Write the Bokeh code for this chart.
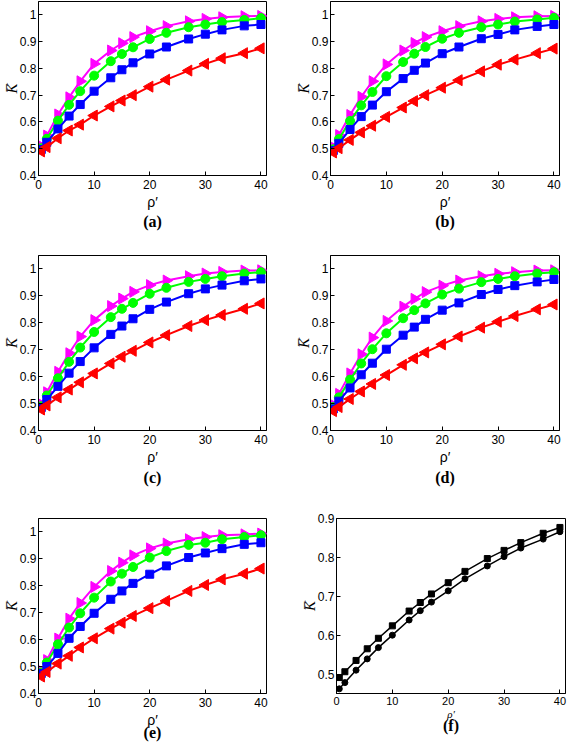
import math
from bokeh.plotting import figure
from bokeh.layouts import row, column
from bokeh.models import FixedTicker, Range1d
from bokeh.embed import file_html
from bokeh.resources import INLINE

# ---------------- data ----------------
rho = [0.5, 1.5, 3.5, 5.5, 7.5, 10, 13, 15, 17, 20, 23, 27, 30, 33, 37, 40]

x_ticks = [0, 10, 20, 30, 40]
y_ticks = [0.4, 0.5, 0.6, 0.7, 0.8, 0.9, 1.0]
y_tick_labels = ["0.4", "0.5", "0.6", "0.7", "0.8", "0.9", "1"]
f_y_ticks = [0.5, 0.6, 0.7, 0.8, 0.9]
f_y_tick_labels = ["0.5", "0.6", "0.7", "0.8", "0.9"]

captions = ["(a)", "(b)", "(c)", "(d)", "(e)", "(f)"]

a_magenta = [0.510, 0.549, 0.628, 0.692, 0.752, 0.817, 0.867, 0.894, 0.917, 0.939, 0.958, 0.976, 0.985, 0.991, 0.995, 0.996]
a_green   = [0.502, 0.537, 0.605, 0.664, 0.715, 0.773, 0.827, 0.854, 0.879, 0.910, 0.933, 0.954, 0.964, 0.973, 0.981, 0.988]
a_blue    = [0.497, 0.524, 0.574, 0.622, 0.665, 0.715, 0.765, 0.795, 0.821, 0.854, 0.880, 0.910, 0.928, 0.944, 0.959, 0.964]
a_red     = [0.490, 0.506, 0.539, 0.568, 0.590, 0.624, 0.658, 0.680, 0.700, 0.732, 0.758, 0.792, 0.817, 0.838, 0.857, 0.875]

b_magenta = [0.506, 0.551, 0.626, 0.694, 0.752, 0.815, 0.867, 0.895, 0.917, 0.939, 0.958, 0.976, 0.985, 0.991, 0.995, 0.996]
b_green   = [0.498, 0.536, 0.604, 0.662, 0.712, 0.771, 0.824, 0.855, 0.880, 0.911, 0.933, 0.954, 0.964, 0.975, 0.983, 0.989]
b_blue    = [0.493, 0.520, 0.572, 0.620, 0.663, 0.713, 0.762, 0.793, 0.820, 0.855, 0.880, 0.911, 0.927, 0.944, 0.957, 0.964]
b_red     = [0.486, 0.502, 0.533, 0.561, 0.586, 0.619, 0.654, 0.678, 0.700, 0.728, 0.756, 0.789, 0.814, 0.833, 0.857, 0.874]

c_magenta = [0.498, 0.542, 0.618, 0.687, 0.749, 0.810, 0.862, 0.890, 0.915, 0.940, 0.957, 0.973, 0.983, 0.989, 0.994, 0.995]
c_green   = [0.490, 0.530, 0.594, 0.655, 0.708, 0.766, 0.821, 0.852, 0.874, 0.908, 0.930, 0.952, 0.963, 0.973, 0.983, 0.988]
c_blue    = [0.485, 0.515, 0.564, 0.613, 0.656, 0.707, 0.757, 0.788, 0.815, 0.850, 0.877, 0.908, 0.926, 0.940, 0.956, 0.963]
c_red     = [0.478, 0.493, 0.523, 0.552, 0.579, 0.612, 0.649, 0.674, 0.696, 0.727, 0.754, 0.788, 0.810, 0.829, 0.852, 0.872]

d_magenta = [0.495, 0.536, 0.612, 0.683, 0.745, 0.807, 0.860, 0.889, 0.914, 0.938, 0.957, 0.973, 0.982, 0.988, 0.994, 0.995]
d_green   = [0.487, 0.523, 0.589, 0.649, 0.702, 0.761, 0.817, 0.847, 0.872, 0.905, 0.927, 0.951, 0.963, 0.973, 0.983, 0.988]
d_blue    = [0.480, 0.509, 0.558, 0.607, 0.650, 0.702, 0.754, 0.784, 0.813, 0.847, 0.874, 0.905, 0.924, 0.938, 0.952, 0.961]
d_red     = [0.472, 0.487, 0.517, 0.545, 0.573, 0.606, 0.644, 0.668, 0.690, 0.720, 0.749, 0.782, 0.804, 0.825, 0.850, 0.868]

e_magenta = [0.484, 0.524, 0.604, 0.678, 0.736, 0.796, 0.855, 0.886, 0.913, 0.939, 0.957, 0.973, 0.981, 0.988, 0.991, 0.994]
e_green   = [0.478, 0.515, 0.583, 0.645, 0.698, 0.756, 0.816, 0.845, 0.870, 0.905, 0.929, 0.952, 0.960, 0.973, 0.981, 0.988]
e_blue    = [0.474, 0.500, 0.549, 0.605, 0.649, 0.698, 0.750, 0.781, 0.809, 0.843, 0.874, 0.905, 0.922, 0.938, 0.954, 0.960]
e_red     = [0.463, 0.480, 0.511, 0.540, 0.571, 0.605, 0.641, 0.663, 0.688, 0.717, 0.744, 0.781, 0.803, 0.824, 0.845, 0.864]

f_upper = [0.491, 0.506, 0.535, 0.565, 0.592, 0.624, 0.662, 0.684, 0.706, 0.735, 0.764, 0.797, 0.818, 0.838, 0.862, 0.877]
f_lower = [0.462, 0.478, 0.510, 0.539, 0.568, 0.600, 0.639, 0.663, 0.685, 0.714, 0.745, 0.778, 0.802, 0.824, 0.847, 0.866]

MAGENTA, GREEN, BLUE, RED = "#ff00ff", "#00ff00", "#0000ff", "#ff0000"


def base_fig(caption, width, height, bl, br, bt, bb, y0, y1, yt, ytl, cap_gap, small_x=False):
    p = figure(width=width, height=height, x_range=Range1d(0, 41), y_range=Range1d(y0, y1),
               output_backend="svg", toolbar_location=None,
               min_border_left=bl, min_border_right=br, min_border_top=bt, min_border_bottom=bb,
               title=caption, title_location="below")
    p.title.align = "center"
    p.title.text_font = "Liberation Serif"
    p.title.text_font_style = "bold"
    p.title.text_font_size = "16px"
    p.title.text_color = "black"
    p.title.standoff = cap_gap
    p.xgrid.visible = False
    p.ygrid.visible = False
    p.outline_line_color = "black"
    p.outline_line_width = 1
    p.outline_line_alpha = 1
    p.background_fill_color = "white"
    p.border_fill_color = "white"
    for ax in (p.xaxis[0], p.yaxis[0]):
        ax.axis_line_color = "black"
        ax.major_tick_line_color = "black"
        ax.major_tick_in = 4
        ax.major_tick_out = 0
        ax.minor_tick_line_color = None
        ax.major_label_text_font = "Liberation Sans"
        ax.major_label_text_font_size = "12px"
        ax.major_label_text_color = "black"
        ax.axis_label_text_color = "black"
    p.yaxis.major_label_standoff = 2
    p.xaxis.ticker = FixedTicker(ticks=x_ticks)
    p.xaxis.major_label_overrides = {t: str(t) for t in x_ticks}
    p.yaxis.ticker = FixedTicker(ticks=yt)
    p.yaxis.major_label_overrides = {t: s for t, s in zip(yt, ytl)}
    p.xaxis.axis_label = "ρ′"
    if small_x:
        p.xaxis.major_label_text_font_size = "11px"
        p.xaxis.major_label_standoff = 3
        p.xaxis.axis_label_text_font = "Liberation Serif"
        p.xaxis.axis_label_text_font_style = "italic"
        p.xaxis.axis_label_text_font_size = "11px"
        p.xaxis.axis_label_standoff = 0
    else:
        p.xaxis.major_label_standoff = 4
        p.xaxis.axis_label_text_font = "Liberation Sans"
        p.xaxis.axis_label_text_font_style = "normal"
        p.xaxis.axis_label_text_font_size = "14px"
        p.xaxis.axis_label_standoff = 2
    p.yaxis.axis_label = "K\u0305"
    p.yaxis.axis_label_text_font = "Liberation Serif"
    p.yaxis.axis_label_text_font_style = "italic"
    p.yaxis.axis_label_text_font_size = "15px"
    p.yaxis.axis_label_standoff = -3
    return p


def colour_panel(caption, width, height, bl, br, bt, bb, cap_gap, mag, grn, blu, red):
    p = base_fig(caption, width, height, bl, br, bt, bb, 0.4, 1.05, y_ticks, y_tick_labels, cap_gap)
    p.line(rho, mag, line_color=MAGENTA, line_width=2)
    p.scatter(rho, mag, marker="triangle", angle=-math.pi / 2, size=11,
              fill_color=MAGENTA, line_color=MAGENTA)
    p.line(rho, grn, line_color=GREEN, line_width=2)
    p.scatter(rho, grn, marker="circle", size=9, fill_color=GREEN, line_color=GREEN)
    p.line(rho, blu, line_color=BLUE, line_width=2)
    p.scatter(rho, blu, marker="square", size=8, fill_color=BLUE, line_color=BLUE)
    p.line(rho, red, line_color=RED, line_width=2)
    p.scatter(rho, red, marker="triangle", angle=math.pi / 2, size=11,
              fill_color=RED, line_color=RED)
    return p


WL, WR = 291, 277
H1, H2, H3 = 250, 260, 240

pa = colour_panel(captions[0], WL, H1, 35, 25, 1, 75, -4, a_magenta, a_green, a_blue, a_red)
pb = colour_panel(captions[1], WR, H1, 39, 9, 1, 75, -4, b_magenta, b_green, b_blue, b_red)
pc = colour_panel(captions[2], WL, H2, 35, 25, 5, 80, -2, c_magenta, c_green, c_blue, c_red)
pd = colour_panel(captions[3], WR, H2, 39, 9, 5, 80, -2, d_magenta, d_green, d_blue, d_red)
pe = colour_panel(captions[4], WL, H3, 35, 25, 8, 57, -18, e_magenta, e_green, e_blue, e_red)

pf = base_fig(captions[5], WR, H3, 45, 3, 4, 56, 0.45, 0.9, f_y_ticks, f_y_tick_labels, -16, small_x=True)
pf.line(rho, f_upper, line_color="black", line_width=1.5)
pf.scatter(rho, f_upper, marker="square", size=6, fill_color="black", line_color="black")
pf.line(rho, f_lower, line_color="black", line_width=1.5)
pf.scatter(rho, f_lower, marker="circle", size=6, fill_color="black", line_color="black")

layout = column(row(pa, pb), row(pc, pd), row(pe, pf))

open("out.html", "w").write(file_html(layout, INLINE))
